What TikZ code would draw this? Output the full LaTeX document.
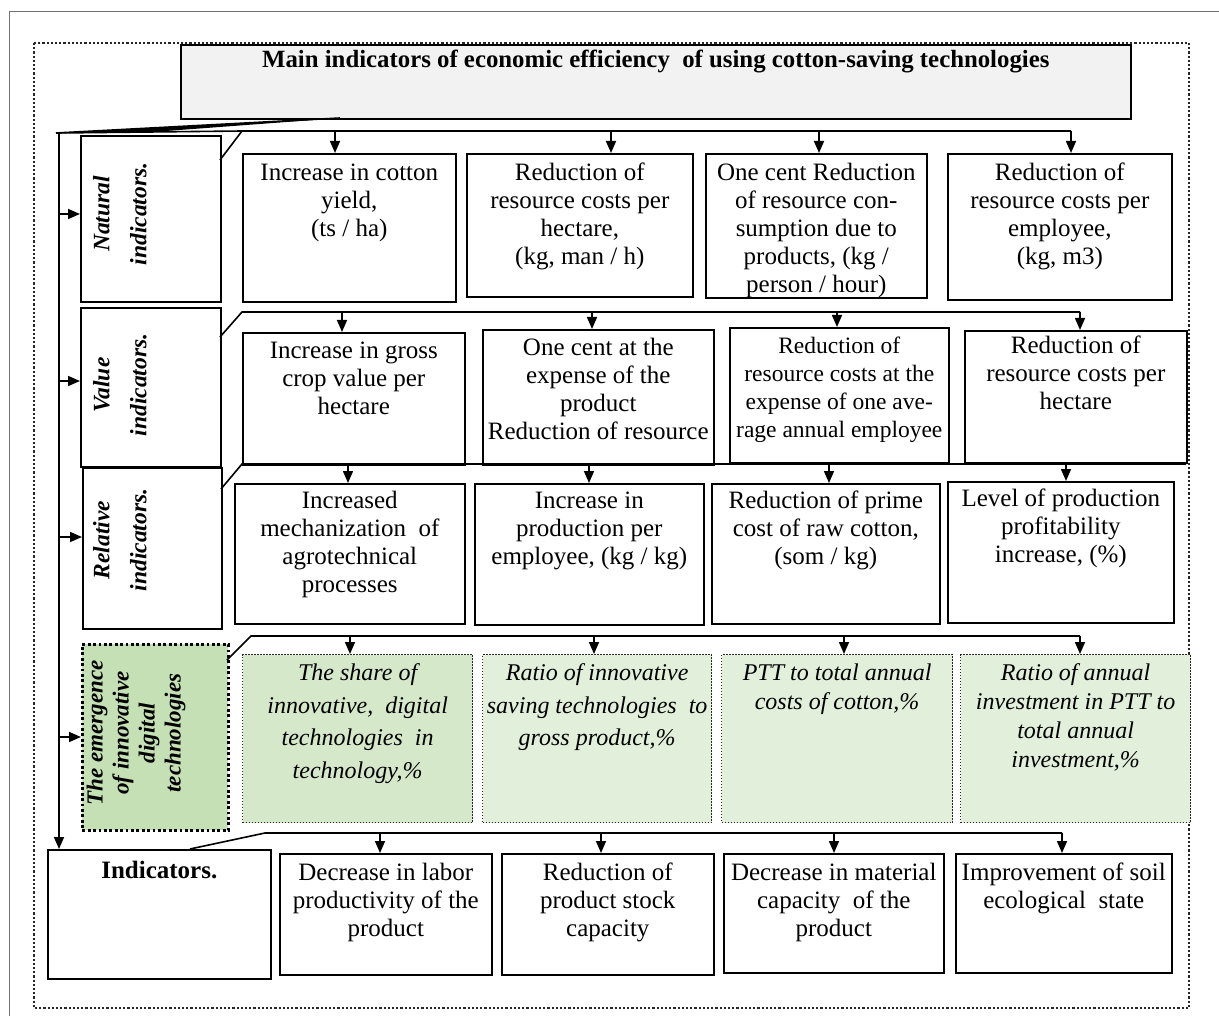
\documentclass[tikz,border=0pt]{standalone}
\usepackage{fontspec}
\setmainfont{Liberation Serif}
\usetikzlibrary{arrows.meta}
\definecolor{titlegray}{HTML}{F2F2F2}
\definecolor{midgreen}{HTML}{C5E0B4}
\definecolor{lightgreen}{HTML}{E2EFDA}
\definecolor{greenA}{HTML}{D6E8CA}
\def\tg{27}
\newcommand\tbox[7][boxst]{%
  \node[#1] (#2) at (#3,#4) {\parbox[c][\dimexpr #6pt-#4pt\relax][t]{\dimexpr #5pt-#3pt\relax}{\centering\rule{0pt}{\tg pt}#7\par}};}
\tikzset{
  boxst/.style={draw=black, line width=1.6pt, anchor=north west, inner sep=0pt, font=\fontsize{25}{28}\selectfont},
  smallbox/.style={boxst, font=\fontsize{23.5}{28}\selectfont},
  titlest/.style={boxst, fill=titlegray, font=\bfseries\fontsize{24.8}{28}\selectfont},
  indst/.style={boxst, font=\bfseries\fontsize{25}{28}\selectfont},
  greenst/.style={boxst, draw=black!85, line width=1.3pt, dash pattern=on 1.5pt off 1.5pt, fill=lightgreen, font=\itshape\fontsize{24}{29}\selectfont},
  greenwide/.style={greenst, font=\itshape\fontsize{24}{32.5}\selectfont},
  emergst/.style={boxst, fill=midgreen, line width=2.8pt, dash pattern=on 2.8pt off 2.6pt},
  sidelabel/.style={rotate=90, align=center, inner sep=0pt, font=\bfseries\itshape\fontsize{23.5}{37}\selectfont},
  bar/.style={line width=1.6pt},
  arr/.style={line width=1.6pt, -{Triangle[width=10pt,length=12pt]}},
}
\begin{document}
\begin{tikzpicture}[x=1pt,y=-1pt]
\useasboundingbox (0,0) rectangle (1219,1016);
% outer page frame and dotted frame
\draw[black!55, line width=1pt] (9,1016) -- (9,12) -- (1219,12);
\draw[black!85, line width=2.2pt, dash pattern=on 2.2pt off 2pt] (34,43) rectangle (1189,1008);

% title
\def\tg{23}
\tbox[titlest]{title}{180}{44}{1130}{118}{Main indicators of economic efficiency\ \ of using cotton-saving technologies}

% side label boxes
\tbox{nat}{80}{135}{220}{301}{}
\tbox{val}{80}{307}{220}{466}{}
\tbox{rel}{82}{467}{221}{628}{}
\tbox[emergst]{emg}{81}{643}{227}{829}{}
\node[sidelabel] (natT) at (120,214) {Natural\\indicators.};
\node[sidelabel] (valT) at (120,385) {Value\\indicators.};
\node[sidelabel] (relT) at (120,540) {Relative\\indicators.};
\node[sidelabel, font=\bfseries\itshape\fontsize{23}{26}\selectfont] (emgT) at (136,733) {The emergence\\of innovative\\digital\\technologies};

% row 1
\def\tg{27}
\tbox{r1a}{242}{153}{455}{301}{Increase in cotton\\ yield,\\ (ts / ha)}
\tbox{r1b}{466}{153}{692}{296}{Reduction of\\ resource costs per\\ hectare,\\ (kg, man / h)}
\tbox{r1c}{705}{153}{926}{297}{One cent Reduction\\ of resource con-\\ sumption due to\\ products, (kg /\\ person / hour)}
\tbox{r1d}{947}{153}{1171}{299}{Reduction of\\ resource costs per\\ employee,\\ (kg, m3)}

% row 2
\def\tg{26}
\tbox{r2a}{242}{332}{464}{464}{Increase in gross\\ crop value per\\ hectare}
\tbox{r2b}{482}{329}{713}{464}{One cent at the\\ expense of the\\ product\\ Reduction of resource}
\tbox[smallbox]{r2c}{729}{327}{948}{462}{Reduction of\\ resource costs at the\\ expense of one ave-\\ rage annual employee}
\def\tg{23}
\tbox{r2d}{964}{330}{1186}{462}{Reduction of\\ resource costs per\\ hectare}

% row 3
\def\tg{25}
\tbox{r3a}{234}{483}{464}{623}{Increased\\ mechanization\ \ of\\ agrotechnical\\ processes}
\tbox{r3b}{474}{483}{703}{624}{Increase in\\ production per\\ employee, (kg / kg)}
\tbox{r3c}{711}{483}{939}{623}{Reduction of prime\\ cost of raw cotton,\\ (som / kg)}
\tbox{r3d}{947}{481}{1173}{622}{Level of production\\ profitability\\ increase, (\%)}

% row 4
\def\tg{26}
\tbox[greenwide, fill=greenA]{g1}{242}{654}{472}{822}{The share of\\ innovative,\ \ digital\\ technologies\ \ in\\ technology,\%}
\tbox[greenwide]{g2}{482}{654}{711}{822}{Ratio of innovative\\ saving technologies\ \ to\\ gross product,\%}
\tbox[greenst]{g3}{721}{654}{952}{822}{PTT to total annual\\ costs of cotton,\%}
\tbox[greenst]{g4}{960}{654}{1190}{822}{Ratio of annual\\ investment in PTT to\\ total annual\\ investment,\%}

% row 5
\def\tg{29}
\tbox[indst]{ind}{47}{849}{270}{978}{Indicators.}
\def\tg{27}
\tbox{r5a}{279}{853}{491}{974}{Decrease in labor\\ productivity of the\\ product}
\tbox{r5b}{501}{853}{713}{974}{Reduction of\\ product stock\\ capacity}
\tbox{r5c}{723}{853}{943}{972}{Decrease in material\\ capacity\ \ of the\\ product}
\tbox{r5d}{955}{853}{1171}{972}{Improvement of soil\\ ecological\ \ state}

% left spine
\coordinate (tip) at (56,133);
\coordinate (lv) at (59,133);
\coordinate (tt) at (340,118);
\fill (tt) -- (tip) -- (150,132.2) -- cycle;
\draw[bar] (tt) -- (tip);
\draw[arr] (lv) -- (lv |- ind.north);
\foreach \y/\n in {214/nat, 381/val, 537/rel, 737/emg}{
  \coordinate (s\n) at (59,\y);
  \draw[arr] (s\n) -- (s\n -| \n.west);
}

% row 1 connectors
\coordinate (b1s) at (242,131);
\coordinate (b1e) at (1071,131);
\coordinate (d1) at (220,160);
\draw[bar] (tip) -- (b1s) -- (b1e);
\draw[bar] (d1) -- (b1s);
\foreach \x/\n in {335/r1a, 611/r1b, 819/r1c, 1071/r1d}{
  \coordinate (a\n) at (\x,131);
  \draw[arr] (a\n) -- (a\n |- \n.north);
}

% row 2 connectors
\coordinate (b2s) at (242,312);
\coordinate (b2e) at (1080,312);
\coordinate (d2) at (220,337);
\draw[bar] (d2) -- (b2s) -- (b2e);
\foreach \x/\n in {342/r2a, 592/r2b, 837/r2c, 1080/r2d}{
  \coordinate (a\n) at (\x,312);
  \draw[arr] (a\n) -- (a\n |- \n.north);
}

% row 3 connectors
\coordinate (b3s) at (242,464);
\coordinate (b3e) at (1186,464);
\coordinate (d3) at (221,489);
\draw[bar] (d3) -- (b3s) -- (b3e);
\foreach \x/\n in {348/r3a, 589/r3b, 829/r3c, 1066/r3d}{
  \coordinate (a\n) at (\x,464);
  \draw[arr] (a\n) -- (a\n |- \n.north);
}

% row 4 connectors
\coordinate (b4s) at (251,636);
\coordinate (b4e) at (1080,636);
\coordinate (d4) at (227,660);
\draw[bar] (d4) -- (b4s) -- (b4e);
\foreach \x/\n in {350/g1, 594/g2, 844/g3, 1080/g4}{
  \coordinate (a\n) at (\x,636);
  \draw[arr] (a\n) -- (a\n |- \n.north);
}

% row 5 connectors
\coordinate (b5s) at (265,833);
\coordinate (b5e) at (1062,833);
\coordinate (d5) at (190,849);
\draw[bar] (d5) -- (b5s) -- (b5e);
\foreach \x/\n in {380/r5a, 601/r5b, 834/r5c, 1062/r5d}{
  \coordinate (a\n) at (\x,833);
  \draw[arr] (a\n) -- (a\n |- \n.north);
}
\end{tikzpicture}
\end{document}
